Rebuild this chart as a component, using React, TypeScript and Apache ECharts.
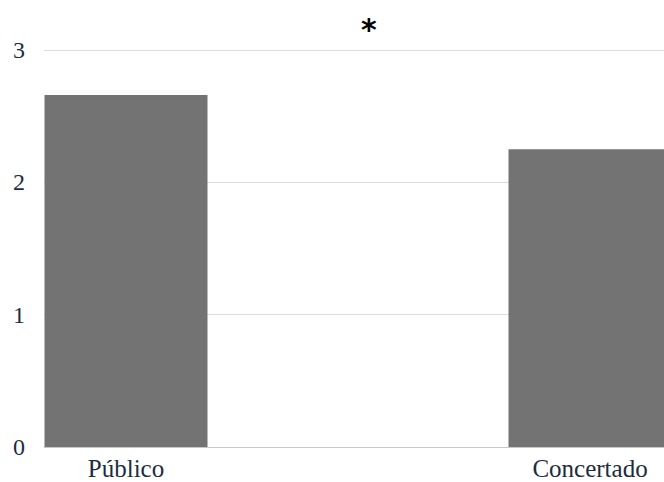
import React, { useEffect, useRef } from "react";
import * as echarts from "echarts";

const categories = ["Público", "Concertado"];
const values = [2.66, 2.25];
const yTicks = { min: 0, max: 3, interval: 1 };
const marker = "*";

export default function App() {
  const ref = useRef<HTMLDivElement>(null);
  useEffect(() => {
    if (!ref.current) return;
    const chart = echarts.init(ref.current, null, { renderer: "svg" });
    const labelColor = "#1c2d3f";
    const font = "'Liberation Serif', 'Times New Roman', serif";
    chart.setOption({
      animation: false,
      backgroundColor: "#ffffff",
      grid: [
        { left: 44, right: 0, top: 50, bottom: 35 },
        { left: 126, right: 74, top: 50, bottom: 35 },
      ],
      xAxis: [
        {
          type: "category",
          gridIndex: 0,
          data: [""],
          axisLine: { show: true, lineStyle: { color: "#c8c8c8", width: 1 } },
          axisTick: { show: false },
          axisLabel: { show: false },
          splitLine: { show: false },
        },
        {
          type: "category",
          gridIndex: 1,
          data: categories,
          boundaryGap: false,
          axisLine: { show: false },
          axisTick: { show: false },
          axisLabel: {
            show: true,
            color: labelColor,
            fontFamily: font,
            fontSize: 25,
            margin: 9,
          },
          splitLine: { show: false },
        },
      ],
      yAxis: [
        {
          type: "value",
          gridIndex: 0,
          min: yTicks.min,
          max: yTicks.max,
          interval: yTicks.interval,
          axisLine: { show: false },
          axisTick: { show: false },
          axisLabel: {
            color: labelColor,
            fontFamily: font,
            fontSize: 24,
            margin: 19,
          },
          splitLine: { show: true, lineStyle: { color: "#dcdcdc", width: 1 } },
        },
        {
          type: "value",
          gridIndex: 1,
          min: yTicks.min,
          max: yTicks.max,
          interval: yTicks.interval,
          axisLine: { show: false },
          axisTick: { show: false },
          axisLabel: { show: false },
          splitLine: { show: false },
        },
      ],
      series: [
        {
          type: "bar",
          xAxisIndex: 1,
          yAxisIndex: 1,
          data: values,
          barWidth: 163,
          clip: false,
          itemStyle: { color: "#737373" },
        },
      ],
      graphic: [
        {
          type: "text",
          left: 361,
          top: 14,
          style: {
            text: marker,
            fill: "#000000",
            font: "bold 30px 'DejaVu Sans', sans-serif",
          },
        },
      ],
    });
    return () => chart.dispose();
  }, []);
  return (
    <div
      ref={ref}
      style={{ position: "fixed", left: 0, top: 0, width: 664, height: 482 }}
    />
  );
}
